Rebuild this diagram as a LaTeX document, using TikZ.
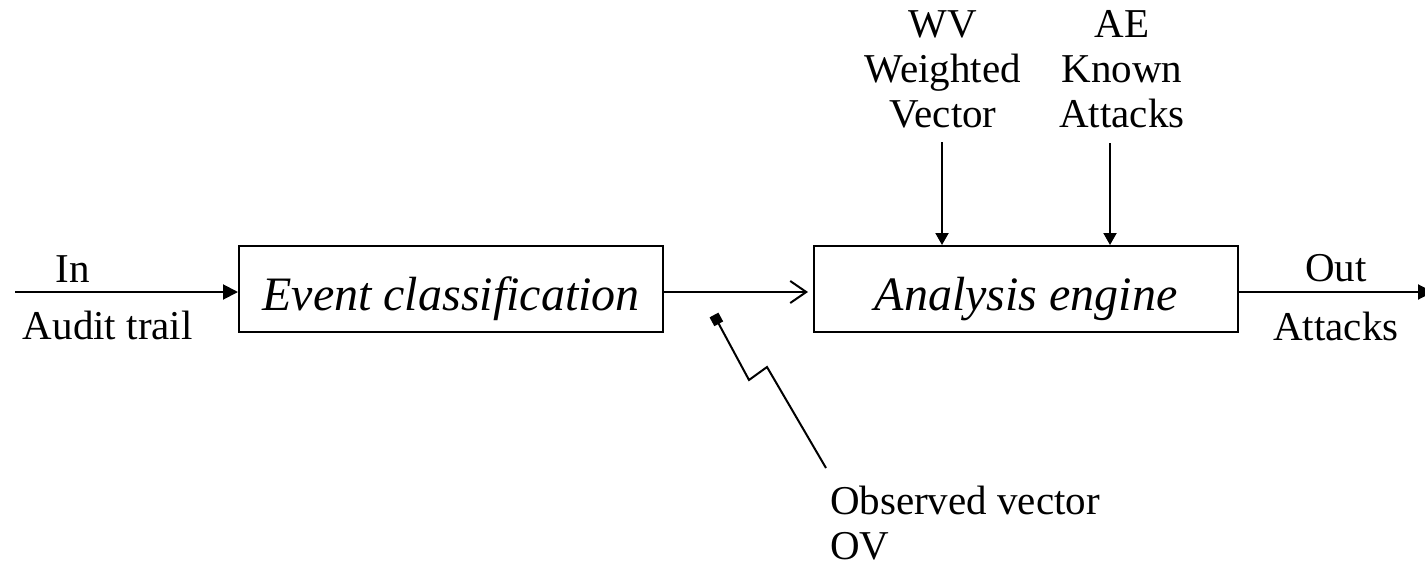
\documentclass[tikz,border=0pt]{standalone}
\usepackage{fontspec}
\setmainfont{Liberation Serif}
\usetikzlibrary{arrows.meta}
\begin{document}
\begin{tikzpicture}[x=1pt,y=-1pt,
  line width=2pt,
  every node/.style={font=\fontsize{41}{45}\selectfont, inner sep=0pt},
  block/.style={draw, line width=2pt, minimum width=424pt, minimum height=86pt,
                font=\fontsize{48}{54}\selectfont\itshape,
                text height=43pt, text depth=0pt},
  flow/.style={-{Triangle[length=15pt,width=15pt]}},
  feed/.style={-{Triangle[length=12pt,width=13pt]}},
  openflow/.style={-{Straight Barb[length=16pt,width=22pt,line width=2pt]}, shorten >=5pt},
  zig/.style={{Square[length=10pt,width=10pt]}-},
]
\useasboundingbox (0,0) rectangle (1425,566);

% processing blocks
\node[block] (ec) at (451,289) {Event classification};
\node[block] (ae) at (1026,289) {Analysis engine};

% side labels (multi-line labels are placed by their last baseline)
\node[anchor=base] (in) at (73,282) {In};
\node[anchor=base west] (trail) at (22,339) {Audit trail};
\node[anchor=base] (out) at (1336,281) {Out};
\node[anchor=base] (att) at (1336,340) {Attacks};
\node[anchor=base, align=center] (wv) at (943,127) {WV\\Weighted\\Vector};
\node[anchor=base, align=center] (kn) at (1122,127) {AE\\Known\\Attacks};
\node[anchor=base west, align=left] (ov) at (829,559) {Observed vector\\OV};

% connector end points
\coordinate (inStart) at (15,292);
\coordinate (mid) at (0,292);
\coordinate (outEnd) at (1433,292);
\coordinate (wvStart) at (942,142);
\coordinate (knStart) at (1110,143);
\coordinate (tap) at (714,315);
\coordinate (z1) at (749,380);
\coordinate (z2) at (767,367);
\coordinate (z3) at (826,468);

% main flow
\draw[flow] (inStart) -- (inStart -| ec.west);
\draw[openflow] (ec.east |- mid) -- (ae.west |- mid);
\draw[flow] (ae.east |- mid) -- (outEnd);

% inputs to the analysis engine
\draw[feed] (wvStart) -- (wvStart |- ae.north);
\draw[feed] (knStart) -- (knStart |- ae.north);

% observed vector tap
\draw[zig] (tap) -- (z1) -- (z2) -- (z3);
\end{tikzpicture}
\end{document}
